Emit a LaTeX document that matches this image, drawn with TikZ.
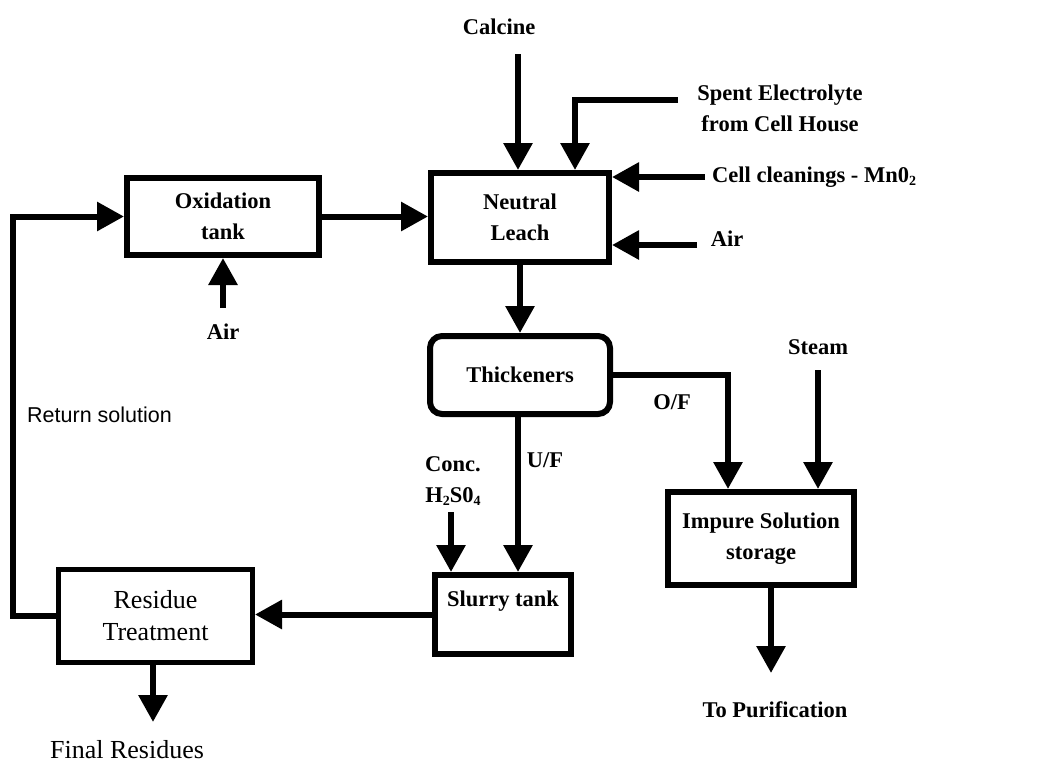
\documentclass[tikz,border=0pt]{standalone}
\usepackage{fontspec}
\setmainfont{Liberation Serif}
\newfontfamily\arialfont{Liberation Sans}
\usetikzlibrary{arrows.meta}
\newcommand\mysub[1]{\raisebox{-0.3ex}{\fontsize{14}{14}\selectfont #1}}
\begin{document}
\begin{tikzpicture}[x=1pt,y=-1pt,
  flow/.style={line width=6pt,-{Triangle[length=27pt,width=28pt]}},
  plain/.style={line width=6pt},
  box/.style={draw,line width=6pt,rectangle,inner sep=0pt,align=center,font=\fontsize{22.5}{31}\selectfont\bfseries},
  rbox/.style={box,font=\fontsize{26}{32}\selectfont,line width=5pt},
  lbl/.style={inner sep=0pt,align=center,font=\fontsize{22.5}{31}\selectfont\bfseries},
  rlbl/.style={inner sep=0pt,align=center,font=\fontsize{26}{32}\selectfont},
  slbl/.style={inner sep=0pt,font=\arialfont\fontsize{21.5}{26}\selectfont}]
\useasboundingbox (0,0) rectangle (1055,764);
% boxes
\node[box,minimum width=192pt,minimum height=77pt] (ox) at (223,216.5) {Oxidation\\tank};
\node[box,minimum width=178pt,minimum height=89pt] (nl) at (520,217.5) {Neutral\\Leach};
\node[box,rounded corners=12pt,minimum width=180pt,minimum height=78pt] (th) at (520,375) {Thickeners};
\node[box,minimum width=186pt,minimum height=93pt] (imp) at (761,538.5) {Impure Solution\\storage};
\node[box,minimum width=136pt,minimum height=79pt] (sl) at (503,614.5) {Slurry tank\\\mbox{}};
\node[rbox,minimum width=194pt,minimum height=93pt] (res) at (155.5,616) {Residue\\Treatment};
% labels
\node[lbl] (calcine) at (499,27) {Calcine};
\node[lbl] (spent) at (780,108) {Spent Electrolyte\\from Cell House};
\node[lbl,anchor=west] (cell) at (712,177) {Cell cleanings - Mn0\mysub{2}};
\node[lbl] (air1) at (727,239) {Air};
\node[lbl] (air2) at (223,332) {Air};
\node[lbl] (of) at (672,402) {O/F};
\node[lbl] (uf) at (545,460) {U/F};
\node[lbl] (steam) at (818,347) {Steam};
\node[lbl] (conc) at (453,481) {Conc.\\H\mysub{2}S0\mysub{4}};
\node[lbl] (purif) at (775,710) {To Purification};
\node[rlbl] (final) at (127,750) {Final Residues};
\node[slbl,anchor=west] (ret) at (27,415) {Return solution};
% connector ends
\coordinate (c1) at (518,54);
\coordinate (se) at (678,100);
\coordinate (se2) at (575,100);
\coordinate (cc) at (705,177);
\coordinate (ai) at (697,245);
\coordinate (ai2) at (223,308);
\coordinate (ofc) at (728,375);
\coordinate (st) at (818,370);
\coordinate (tp) at (771,673);
\coordinate (cn) at (451,512);
\coordinate (fr) at (153,722);
\coordinate (rs) at (13,0);
% connectors
\draw[flow] (c1) -- (c1 |- nl.north);
\draw[flow] (se) -- (se2) -- (se2 |- nl.north);
\draw[flow] (cc) -- (cc -| nl.east);
\draw[flow] (ai) -- (ai -| nl.east);
\draw[flow] (ai2) -- (ox.south);
\draw[flow] (ox.east) -- (ox.east -| nl.west);
\draw[flow] (nl.south) -- (th.north);
\draw[flow] (th.east) -- (ofc) -- (ofc |- imp.north);
\draw[flow] (st) -- (st |- imp.north);
\draw[flow] (tp |- imp.south) -- (tp);
\draw[flow] (518,0 |- th.south) -- (518,0 |- sl.north);
\draw[flow] (cn) -- (cn |- sl.north);
\draw[flow] (sl.west) -- (sl.west -| res.east);
\draw[flow] (fr |- res.south) -- (fr);
\draw[flow] (res.west) -- (res.west -| rs) -- (rs |- ox.west) -- (ox.west);
\end{tikzpicture}
\end{document}
